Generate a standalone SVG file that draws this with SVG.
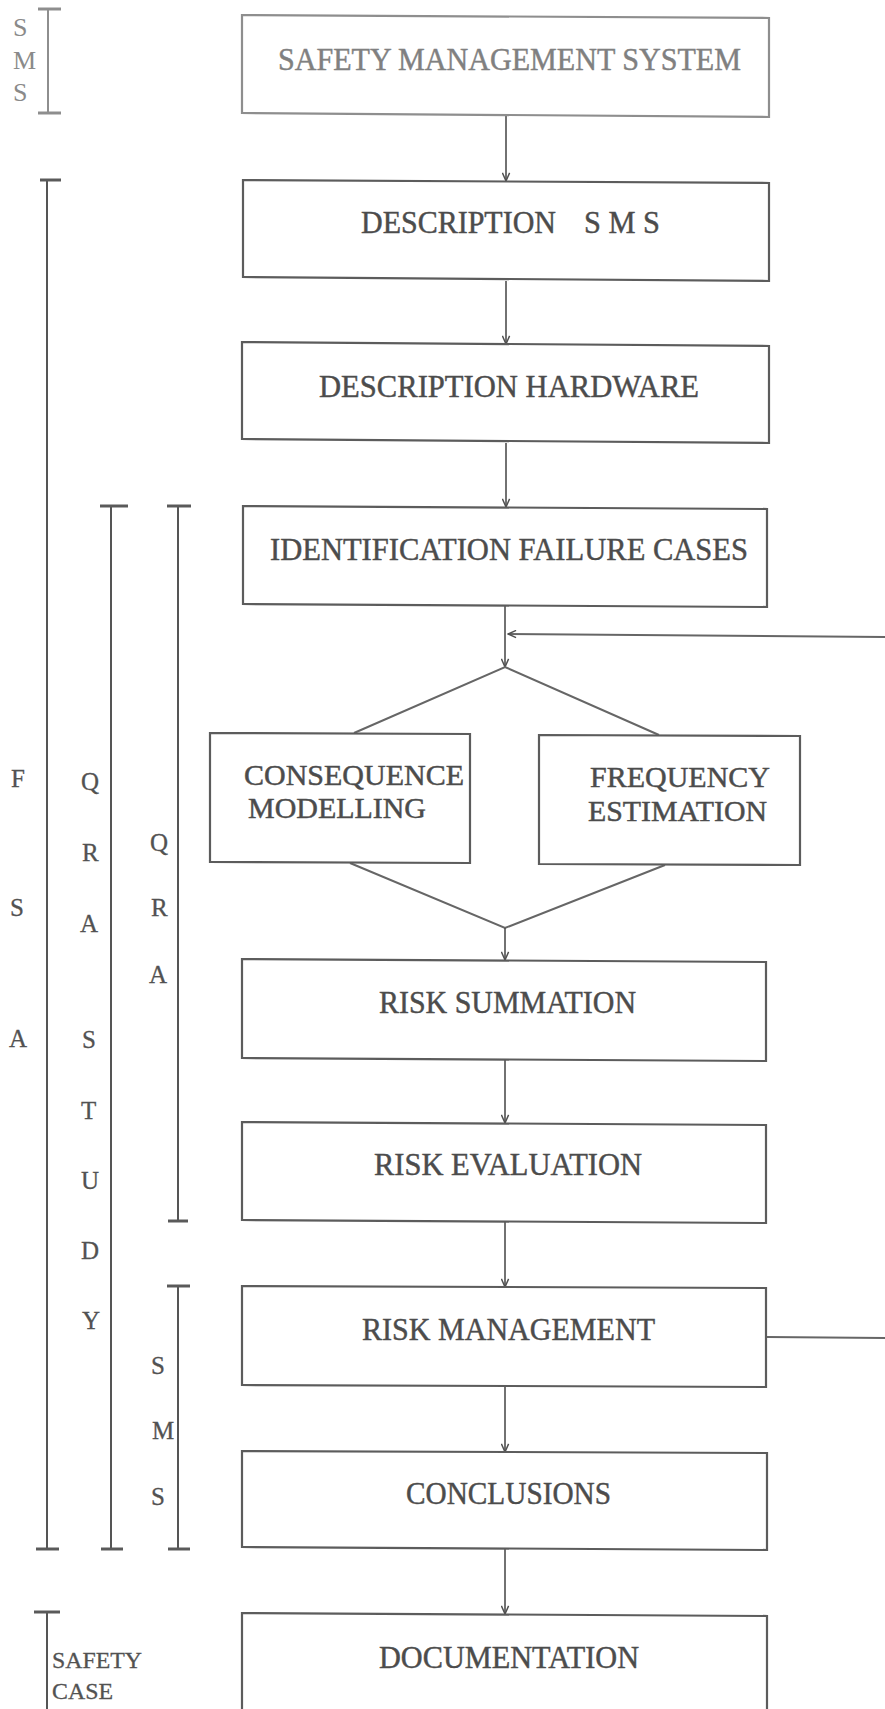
<svg xmlns="http://www.w3.org/2000/svg" width="885" height="1709" viewBox="0 0 885 1709">
  <style>
    .box { fill: #ffffff; stroke: #5c5c5c; stroke-width: 2.2; }
    .box-light { fill: #ffffff; stroke: #8e8e8e; stroke-width: 2.2; }
    .lbl { font-family: "Liberation Serif", "Times New Roman", serif; font-size: 32px; fill: #4c4c4c; stroke: #4c4c4c; stroke-width: 0.45; }
    .lbl2 { font-family: "Liberation Serif", "Times New Roman", serif; font-size: 29px; fill: #4c4c4c; stroke: #4c4c4c; stroke-width: 0.45; }
    .lbl-light { font-family: "Liberation Serif", "Times New Roman", serif; font-size: 32px; fill: #808080; stroke: #808080; stroke-width: 0.45; }
    .side { font-family: "Liberation Serif", "Times New Roman", serif; font-size: 25px; fill: #525252; stroke: #525252; stroke-width: 0.3; }
    .side-light { font-family: "Liberation Serif", "Times New Roman", serif; font-size: 26px; fill: #8a8a8a; }
    .side-small { font-family: "Liberation Serif", "Times New Roman", serif; font-size: 24px; fill: #525252; stroke: #525252; stroke-width: 0.3; }
    .bar { stroke: #555555; stroke-width: 2; fill: none; }
    .bar-light { stroke: #8e8e8e; stroke-width: 2; fill: none; }
    .tick { stroke: #5a5a5a; stroke-width: 3; fill: none; }
    .tick-light { stroke: #8e8e8e; stroke-width: 3; fill: none; }
    .flow { stroke: #4f4f4f; stroke-width: 1.6; fill: none; }
    .link { stroke: #666666; stroke-width: 2; fill: none; }
  </style>
  <defs>
    <marker id="arrow" viewBox="0 0 10 10" refX="10" refY="5" markerWidth="10" markerHeight="9" markerUnits="userSpaceOnUse" orient="auto">
      <path d="M1,1 L10,5 L1,9" fill="none" stroke="#4f4f4f" stroke-width="1.6"/>
    </marker>
  </defs>

  <rect width="885" height="1709" fill="#ffffff"/>

  <!-- scope brackets on the left -->
  <g id="bracket-sms-top">
    <line class="bar-light" x1="48" y1="9" x2="48" y2="113"/>
    <line class="tick-light" x1="38" y1="9" x2="61" y2="9"/>
    <line class="tick-light" x1="38" y1="113" x2="61" y2="113"/>
    <text class="side-light" x="13" y="36">S</text>
    <text class="side-light" x="13" y="69">M</text>
    <text class="side-light" x="13" y="101">S</text>
  </g>
  <g id="bracket-fsa">
    <line class="bar" x1="47" y1="180" x2="47" y2="1549"/>
    <line class="tick" x1="40" y1="180" x2="61" y2="180"/>
    <line class="tick" x1="36" y1="1549" x2="59" y2="1549"/>
    <text class="side" x="11" y="787">F</text>
    <text class="side" x="10" y="916">S</text>
    <text class="side" x="9" y="1047">A</text>
  </g>
  <g id="bracket-qra-study">
    <line class="bar" x1="111" y1="506" x2="111" y2="1549"/>
    <line class="tick" x1="100" y1="506" x2="128" y2="506"/>
    <line class="tick" x1="101" y1="1549" x2="123" y2="1549"/>
    <text class="side" x="81" y="790">Q</text>
    <text class="side" x="82" y="861">R</text>
    <text class="side" x="80" y="932">A</text>
    <text class="side" x="82" y="1048">S</text>
    <text class="side" x="81" y="1119">T</text>
    <text class="side" x="81" y="1189">U</text>
    <text class="side" x="81" y="1259">D</text>
    <text class="side" x="82" y="1329">Y</text>
  </g>
  <g id="bracket-qra">
    <line class="bar" x1="178" y1="506" x2="178" y2="1221"/>
    <line class="tick" x1="167" y1="506" x2="191" y2="506"/>
    <line class="tick" x1="168" y1="1221" x2="188" y2="1221"/>
    <text class="side" x="150" y="851">Q</text>
    <text class="side" x="151" y="916">R</text>
    <text class="side" x="149" y="983">A</text>
  </g>
  <g id="bracket-sms-bottom">
    <line class="bar" x1="178" y1="1286" x2="178" y2="1549"/>
    <line class="tick" x1="167" y1="1286" x2="190" y2="1286"/>
    <line class="tick" x1="168" y1="1549" x2="190" y2="1549"/>
    <text class="side" x="151" y="1374">S</text>
    <text class="side" x="152" y="1439">M</text>
    <text class="side" x="151" y="1505">S</text>
  </g>
  <g id="bracket-safety-case">
    <line class="bar" x1="47" y1="1612" x2="47" y2="1712"/>
    <line class="tick" x1="34" y1="1612" x2="60" y2="1612"/>
    <text class="side-small"><tspan x="52" y="1668" textLength="90" lengthAdjust="spacingAndGlyphs">SAFETY</tspan><tspan x="52" y="1699" textLength="61" lengthAdjust="spacingAndGlyphs">CASE</tspan></text>
  </g>

  <!-- connectors -->
  <g id="connectors">
    <line class="flow" x1="506" y1="116" x2="506" y2="181" marker-end="url(#arrow)"/>
    <line class="flow" x1="506" y1="281" x2="506" y2="344" marker-end="url(#arrow)"/>
    <line class="flow" x1="506" y1="443" x2="506" y2="507" marker-end="url(#arrow)"/>
    <line class="flow" x1="505" y1="605" x2="505" y2="667" marker-end="url(#arrow)"/>
    <!-- split to the two parallel analyses -->
    <polyline class="link" points="354,733 505,667 659,735"/>
    <!-- merge of the two analyses -->
    <polyline class="link" points="350,863 505,928 665,865"/>
    <line class="flow" x1="505" y1="928" x2="505" y2="960" marker-end="url(#arrow)"/>
    <line class="flow" x1="505" y1="1060" x2="505" y2="1123" marker-end="url(#arrow)"/>
    <line class="flow" x1="505" y1="1222" x2="505" y2="1287" marker-end="url(#arrow)"/>
    <line class="flow" x1="505" y1="1386" x2="505" y2="1452" marker-end="url(#arrow)"/>
    <line class="flow" x1="505" y1="1549" x2="505" y2="1614" marker-end="url(#arrow)"/>
    <!-- feedback loop from risk management back to the analyses -->
    <line class="link" x1="767" y1="1337" x2="890" y2="1338"/>
    <line class="link" x1="890" y1="637" x2="508" y2="634" marker-end="url(#arrow)"/>
  </g>

  <!-- process steps -->
  <g id="node-sms">
    <polygon class="box-light" points="242,15 769,18 769,117 242,113"/>
    <text class="lbl-light" x="278" y="70" textLength="463" lengthAdjust="spacingAndGlyphs">SAFETY MANAGEMENT SYSTEM</text>
  </g>
  <g id="node-description-sms">
    <polygon class="box" points="243,180 769,183 769,281 243,277"/>
    <text class="lbl" y="233"><tspan x="361" textLength="195" lengthAdjust="spacingAndGlyphs">DESCRIPTION</tspan> <tspan x="584" textLength="76" lengthAdjust="spacingAndGlyphs">S M S</tspan></text>
  </g>
  <g id="node-description-hardware">
    <polygon class="box" points="242,342 769,346 769,443 242,439"/>
    <text class="lbl" x="319" y="397" textLength="380" lengthAdjust="spacingAndGlyphs">DESCRIPTION HARDWARE</text>
  </g>
  <g id="node-identification">
    <polygon class="box" points="243,506 767,509 767,607 243,604"/>
    <text class="lbl" x="270" y="560" textLength="478" lengthAdjust="spacingAndGlyphs">IDENTIFICATION FAILURE CASES</text>
  </g>
  <g id="node-consequence">
    <polygon class="box" points="210,733 470,734 470,863 210,862"/>
    <text class="lbl2"><tspan x="244" y="785" textLength="220" lengthAdjust="spacingAndGlyphs">CONSEQUENCE</tspan><tspan x="248" y="818" textLength="178" lengthAdjust="spacingAndGlyphs">MODELLING</tspan></text>
  </g>
  <g id="node-frequency">
    <polygon class="box" points="539,735 800,736 800,865 539,864"/>
    <text class="lbl2"><tspan x="590" y="787" textLength="180" lengthAdjust="spacingAndGlyphs">FREQUENCY</tspan><tspan x="588" y="821" textLength="179" lengthAdjust="spacingAndGlyphs">ESTIMATION</tspan></text>
  </g>
  <g id="node-risk-summation">
    <polygon class="box" points="242,959 766,962 766,1061 242,1058"/>
    <text class="lbl" x="379" y="1013" textLength="257" lengthAdjust="spacingAndGlyphs">RISK SUMMATION</text>
  </g>
  <g id="node-risk-evaluation">
    <polygon class="box" points="242,1122 766,1125 766,1223 242,1220"/>
    <text class="lbl" x="374" y="1175" textLength="268" lengthAdjust="spacingAndGlyphs">RISK EVALUATION</text>
  </g>
  <g id="node-risk-management">
    <polygon class="box" points="242,1286 766,1288 766,1387 242,1385"/>
    <text class="lbl" x="362" y="1340" textLength="293" lengthAdjust="spacingAndGlyphs">RISK MANAGEMENT</text>
  </g>
  <g id="node-conclusions">
    <polygon class="box" points="242,1451 767,1453 767,1550 242,1547"/>
    <text class="lbl" x="406" y="1504" textLength="205" lengthAdjust="spacingAndGlyphs">CONCLUSIONS</text>
  </g>
  <g id="node-documentation">
    <polygon class="box" points="242,1613 767,1616 767,1716 242,1716"/>
    <text class="lbl" x="379" y="1668" textLength="260" lengthAdjust="spacingAndGlyphs">DOCUMENTATION</text>
  </g>
</svg>
